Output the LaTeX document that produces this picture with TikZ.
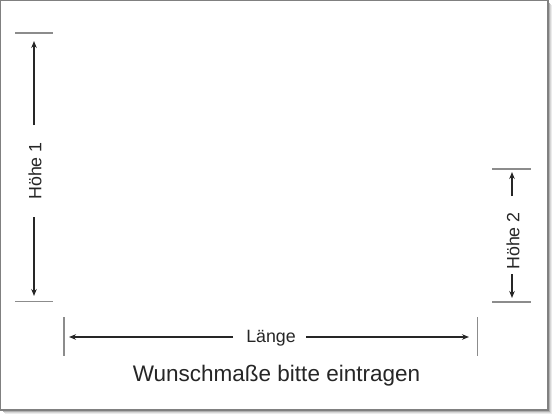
\documentclass[tikz,border=0pt]{standalone}
\usepackage{fontspec}
\setmainfont{Liberation Sans}
\usetikzlibrary{arrows.meta}
\begin{document}
\begin{tikzpicture}[x=1pt,y=-1pt,
  tick/.style={draw=black!45,line width=1.3pt},
  dimarrow/.style={draw=black!85,line width=2pt,-{Stealth[length=7pt,width=5.5pt]}},
  dimlabel/.style={inner sep=0pt,font=\fontsize{17.8}{17.8}\selectfont,text=black!85},
  title/.style={inner sep=0pt,font=\fontsize{22.5}{22.5}\selectfont,text=black!85}]
\useasboundingbox (0,0) rectangle (560,420);
\fill[white] (0,0) rectangle (560,420);
% shadow
\foreach \o/\c in {5/8,4/16,3/30,2/45}{
  \fill[black!\c] (\o,\o) rectangle (547+\o,409+\o);
}
\filldraw[fill=white,draw=black!50,line width=1.2pt] (0.6,0.6) rectangle (548,410);
% Hoehe 1
\coordinate (h1t1) at (15,33); \coordinate (h1t2) at (53,33);
\coordinate (h1b1) at (15,301.5); \coordinate (h1b2) at (53,301.5);
\draw[tick] (h1t1) -- (h1t2);
\draw[tick] (h1b1) -- (h1b2);
\node[dimlabel,rotate=90] (h1) at (35,171) {Höhe 1};
\coordinate (h1a1) at (34,125); \coordinate (h1e1) at (34,41);
\coordinate (h1a2) at (34,217); \coordinate (h1e2) at (34,296);
\draw[dimarrow] (h1a1) -- (h1e1);
\draw[dimarrow] (h1a2) -- (h1e2);
% Hoehe 2
\coordinate (h2t1) at (492,169); \coordinate (h2t2) at (531,169);
\coordinate (h2b1) at (492,302); \coordinate (h2b2) at (531,302);
\draw[tick] (h2t1) -- (h2t2);
\draw[tick] (h2b1) -- (h2b2);
\node[dimlabel,rotate=90] (h2) at (513,241) {Höhe 2};
\coordinate (h2a1) at (512,196); \coordinate (h2e1) at (512,172);
\coordinate (h2a2) at (512,274); \coordinate (h2e2) at (512,298);
\draw[dimarrow] (h2a1) -- (h2e1);
\draw[dimarrow] (h2a2) -- (h2e2);
% Laenge
\coordinate (l1t) at (64,317); \coordinate (l1b) at (64,355.5);
\coordinate (l2t) at (477.5,317); \coordinate (l2b) at (477.5,355.5);
\draw[tick] (l1t) -- (l1b);
\draw[tick] (l2t) -- (l2b);
\node[dimlabel] (len) at (271,338) {Länge};
\coordinate (la1) at (233,337); \coordinate (le1) at (69,337);
\coordinate (la2) at (306,337); \coordinate (le2) at (469,337);
\draw[dimarrow] (la1) -- (le1);
\draw[dimarrow] (la2) -- (le2);
% title
\node[title] (t) at (276.5,376) {Wunschmaße bitte eintragen};
\end{tikzpicture}
\end{document}
